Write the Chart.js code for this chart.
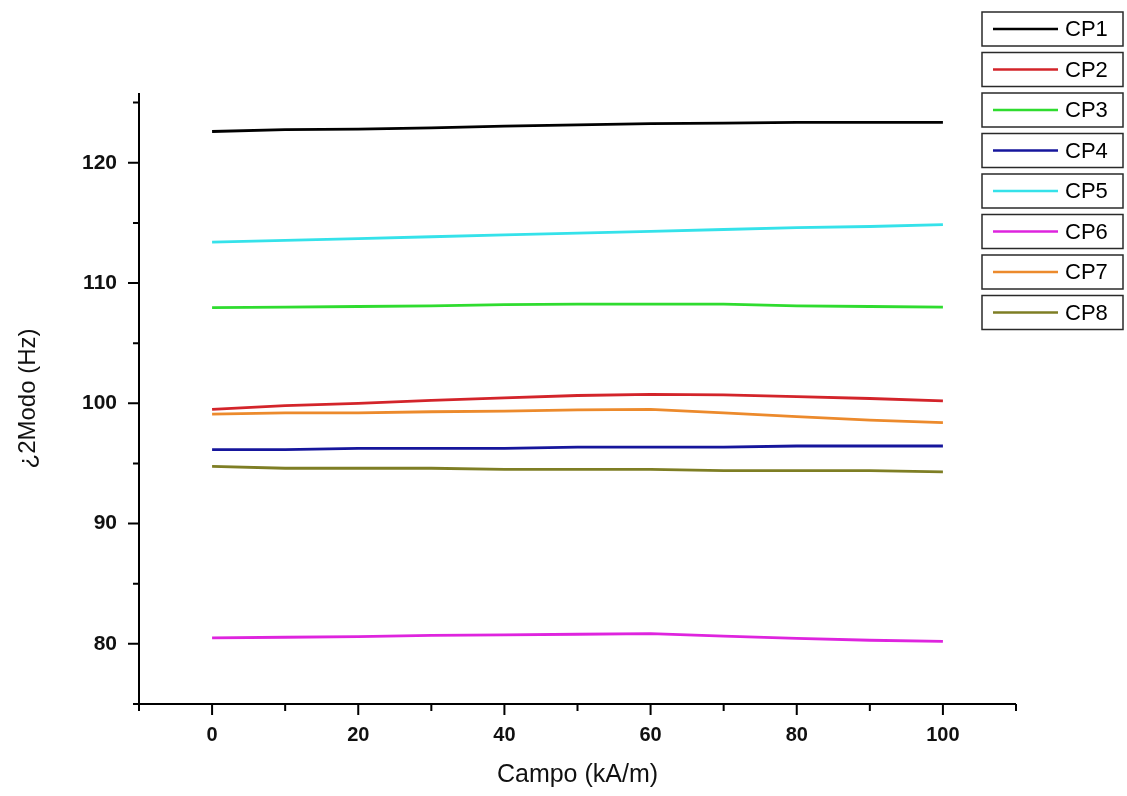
<!DOCTYPE html>
<html>
<head>
<meta charset="utf-8">
<title>Modo 2 vs Campo</title>
<script src="https://cdn.jsdelivr.net/npm/chart.js@4.4.1/dist/chart.umd.min.js"></script>
<style>
  html, body { margin: 0; padding: 0; background: #fff; }
  #wrap { width: 1127px; height: 796px; position: relative; }
</style>
</head>
<body>
<div id="wrap"><canvas id="chart"></canvas></div>
<script>
// Field values (kA/m)
const campo = [0, 10, 20, 30, 40, 50, 60, 70, 80, 90, 100];

// Second-mode frequency (Hz) per specimen
const cp1 = [122.6, 122.75, 122.8, 122.9, 123.05, 123.15, 123.25, 123.3, 123.35, 123.35, 123.35];
const cp2 = [99.5, 99.8, 100.0, 100.25, 100.45, 100.65, 100.75, 100.7, 100.55, 100.4, 100.2];
const cp3 = [107.95, 108.0, 108.05, 108.1, 108.2, 108.25, 108.25, 108.25, 108.1, 108.05, 108.0];
const cp4 = [96.15, 96.15, 96.25, 96.25, 96.25, 96.35, 96.35, 96.35, 96.45, 96.45, 96.45];
const cp5 = [113.4, 113.55, 113.7, 113.85, 114.0, 114.15, 114.3, 114.45, 114.6, 114.7, 114.85];
const cp6 = [80.5, 80.55, 80.6, 80.7, 80.75, 80.8, 80.85, 80.65, 80.45, 80.3, 80.2];
const cp7 = [99.1, 99.2, 99.2, 99.3, 99.35, 99.45, 99.5, 99.2, 98.9, 98.6, 98.4];
const cp8 = [94.75, 94.6, 94.6, 94.6, 94.5, 94.5, 94.5, 94.4, 94.4, 94.4, 94.3];

const seriesNames = ['CP1', 'CP2', 'CP3', 'CP4', 'CP5', 'CP6', 'CP7', 'CP8'];
const seriesColors = ['#000000', '#d3242a', '#2fdc2f', '#16169c', '#35e2ea', '#de24de', '#ec8a2c', '#7e7e24'];

// Tick positions
const xMajor = [0, 20, 40, 60, 80, 100];
const xMinor = [-10, 10, 30, 50, 70, 90, 110];
const yMajor = [80, 90, 100, 110, 120];
const yMinor = [75, 85, 95, 105, 115, 125];

const allSeries = [cp1, cp2, cp3, cp4, cp5, cp6, cp7, cp8];
const datasets = allSeries.map((vals, i) => ({
  label: seriesNames[i],
  data: vals.map((v, k) => ({ x: campo[k], y: v })),
  borderColor: seriesColors[i],
  backgroundColor: seriesColors[i],
  borderWidth: 2.8,
  pointRadius: 0,
  tension: 0
}));

// Left/bottom axis lines with outward tick marks (major long, minor short)
const axesPlugin = {
  id: 'axesTicks',
  afterDraw(chart) {
    const { ctx, chartArea: a, scales: { x, y } } = chart;
    ctx.save();
    ctx.strokeStyle = '#000';
    ctx.lineWidth = 2;
    ctx.beginPath();
    ctx.moveTo(a.left, a.top);
    ctx.lineTo(a.left, a.bottom);
    ctx.lineTo(a.right, a.bottom);
    ctx.stroke();
    ctx.beginPath();
    xMajor.forEach(v => { const px = x.getPixelForValue(v); ctx.moveTo(px, a.bottom); ctx.lineTo(px, a.bottom + 11); });
    xMinor.forEach(v => { const px = x.getPixelForValue(v); ctx.moveTo(px, a.bottom); ctx.lineTo(px, a.bottom + 7); });
    yMajor.forEach(v => { const py = y.getPixelForValue(v); ctx.moveTo(a.left, py); ctx.lineTo(a.left - 11, py); });
    yMinor.forEach(v => { const py = y.getPixelForValue(v); ctx.moveTo(a.left, py); ctx.lineTo(a.left - 6, py); });
    ctx.stroke();
    ctx.restore();
  }
};

// Stack of individually framed legend entries on the right
const legendPlugin = {
  id: 'boxLegend',
  afterDraw(chart) {
    const { ctx } = chart;
    ctx.save();
    ctx.font = '22px "Liberation Sans", Arial, sans-serif';
    ctx.textBaseline = 'middle';
    chart.data.datasets.forEach((ds, i) => {
      const cy = 29 + i * 40.5;
      ctx.strokeStyle = '#2a2a2a';
      ctx.lineWidth = 1.5;
      ctx.strokeRect(982, cy - 17, 141, 34);
      ctx.strokeStyle = ds.borderColor;
      ctx.lineWidth = 2.6;
      ctx.beginPath();
      ctx.moveTo(993, cy);
      ctx.lineTo(1058, cy);
      ctx.stroke();
      ctx.fillStyle = '#000';
      ctx.fillText(ds.label, 1065, cy + 1);
    });
    ctx.restore();
  }
};

new Chart(document.getElementById('chart'), {
  type: 'line',
  data: { datasets },
  options: {
    responsive: true,
    maintainAspectRatio: false,
    animation: false,
    layout: { padding: { top: 93, right: 111, left: 0, bottom: 0 } },
    plugins: {
      legend: { display: false },
      tooltip: { enabled: false }
    },
    scales: {
      x: {
        type: 'linear',
        min: -10,
        max: 110,
        afterFit: s => { s.height = 92; },
        afterBuildTicks: s => { s.ticks = xMajor.map(v => ({ value: v })); },
        grid: { display: false, drawTicks: false },
        border: { display: false },
        ticks: {
          color: '#111',
          padding: 19,
          maxRotation: 0,
          font: { family: '"Liberation Sans", Arial, sans-serif', size: 20, weight: 'bold' }
        },
        title: {
          display: true,
          text: 'Campo (kA/m)',
          color: '#111',
          padding: { top: 8, bottom: 6 },
          font: { family: '"Liberation Sans", Arial, sans-serif', size: 25 }
        }
      },
      y: {
        min: 75,
        max: 125.8,
        afterFit: s => { s.width = 139; },
        afterBuildTicks: s => { s.ticks = yMajor.map(v => ({ value: v })); },
        grid: { display: false, drawTicks: false },
        border: { display: false },
        ticks: {
          color: '#111',
          padding: 22,
          font: { family: '"Liberation Sans", Arial, sans-serif', size: 21, weight: 'bold' }
        },
        title: {
          display: true,
          text: '¿2Modo (Hz)',
          color: '#111',
          padding: { top: 14, bottom: 0 },
          font: { family: '"Liberation Sans", Arial, sans-serif', size: 24 }
        }
      }
    }
  },
  plugins: [axesPlugin, legendPlugin]
});
</script>
</body>
</html>
